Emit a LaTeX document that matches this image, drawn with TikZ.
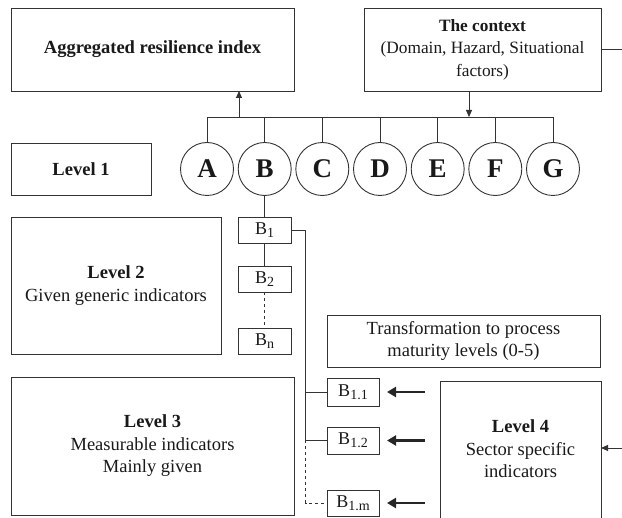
\documentclass[tikz,border=0pt]{standalone}
\usepackage{fontspec}
\setmainfont{Liberation Serif}
\usetikzlibrary{arrows.meta}
% subscript for indicator labels
\newcommand\idxsub[1]{\raisebox{-0.35ex}{\fontsize{14}{14}\selectfont #1}}
\begin{document}
\begin{tikzpicture}[x=1pt,y=-1pt,
  every node/.style={inner sep=0pt, outer sep=0pt},
  box/.style={draw=black!80, line width=0.9pt, align=center,
    font=\fontsize{18.5}{22.5}\selectfont, text=black!90},
  letter/.style={draw=black!80, line width=0.9pt, circle, minimum size=53pt,
    font=\fontsize{27}{27}\selectfont\bfseries, text=black!90},
  ind/.style={draw=black!80, line width=0.9pt, minimum width=53pt,
    font=\fontsize{18}{18}\selectfont, text=black!90},
  conn/.style={draw=black!80, line width=0.9pt},
  tip/.style={conn, -{Triangle[length=7pt,width=6pt]}},
  feed/.style={draw=black!85, line width=2.6pt, -{Triangle[length=9pt,width=10pt]}},
]
\useasboundingbox (0,0) rectangle (622,518);

% top row
\node[box, minimum width=283pt, minimum height=83pt] (agg) at (152.5,49.5)
  {\bfseries Aggregated resilience index};
\node[box, minimum width=237pt, minimum height=83pt,
  font=\fontsize{17.3}{22.5}\selectfont] (ctx) at (482.5,49.5)
  {\textbf{The context}\\(Domain, Hazard, Situational\\factors)};

% level labels
\node[box, minimum width=140pt, minimum height=52pt] (lvl1) at (81,169) {\bfseries Level 1};
\node[box, minimum width=210pt, minimum height=137pt] (lvl2) at (116,285.5)
  {\textbf{Level 2}\\Given generic indicators};
\node[box, minimum width=283pt, minimum height=138pt] (lvl3) at (152.5,446)
  {\textbf{Level 3}\\Measurable indicators\\Mainly given};
\node[box, minimum width=273pt, minimum height=52pt] (trans) at (463.5,341)
  {Transformation to process\\maturity levels (0-5)};
\node[box, minimum width=161pt, minimum height=179pt] (lvl4) at (520.5,470.5) {};
\node[align=center, font=\fontsize{18.5}{22.5}\selectfont, text=black!90] (l4text) at (520.5,449)
  {\textbf{Level 4}\\Sector specific\\indicators};

% dimension circles
\node[letter] (A) at (207,169) {A};
\node[letter] (B) at (264.7,169) {B};
\node[letter] (C) at (322.3,169) {C};
\node[letter] (D) at (380,169) {D};
\node[letter] (E) at (437.7,169) {E};
\node[letter] (F) at (495.3,169) {F};
\node[letter] (G) at (553,169) {G};

% bus joining the circles
\coordinate (bus) at (0,117);
\draw[conn] (A.north) -- (A |- bus) -- (G |- bus) -- (G.north);
\foreach \n in {B,C,D,E,F} \draw[conn] (\n.north) -- (\n |- bus);
\coordinate (up) at (239,117);
\draw[tip] (up) -- (up |- agg.south);
\coordinate (dn) at (469,117);
\draw[tip] (dn |- ctx.south) -- (dn);
\coordinate (ctxout) at (622,49.5);
\draw[conn] (ctx.east) -- (ctxout);

% generic indicators under B
\node[ind, minimum height=26pt] (B1) at (264.7,230) {B\idxsub{1}};
\node[ind, minimum height=26pt] (B2) at (264.7,279) {B\idxsub{2}};
\node[ind, minimum height=26pt] (Bn) at (264.7,341) {B\idxsub{n}};
\draw[conn] (B.south) -- (B1.north);
\draw[conn] (B1.south) -- (B2.north);
\draw[conn, dashed] (B2.south) -- (Bn.north);

% measurable indicators under B1
\node[ind, minimum width=52pt, minimum height=28pt] (B11) at (353,392) {B\idxsub{1.1}};
\node[ind, minimum width=52pt, minimum height=27pt] (B12) at (353,440.5) {B\idxsub{1.2}};
\node[ind, minimum width=52pt, minimum height=26pt] (B1m) at (353,503) {B\idxsub{1.m}};
\coordinate (trunk) at (305.5,0);
\draw[conn] (B1.east) -| (trunk |- B12) -- (B12.west);
\draw[conn] (trunk |- B11) -- (B11.west);
\draw[conn, dashed] (trunk |- B12) |- (B1m.west);

% sector inputs
\draw[feed] ([xshift=46pt]B11.east) -- ([xshift=8pt]B11.east);
\draw[feed] ([xshift=46pt]B12.east) -- ([xshift=8pt]B12.east);
\draw[feed] ([xshift=46pt]B1m.east) -- ([xshift=8pt]B1m.east);
\coordinate (l4in) at (622,448);
\draw[tip] (l4in) -- (l4in -| lvl4.east);
\end{tikzpicture}
\end{document}
